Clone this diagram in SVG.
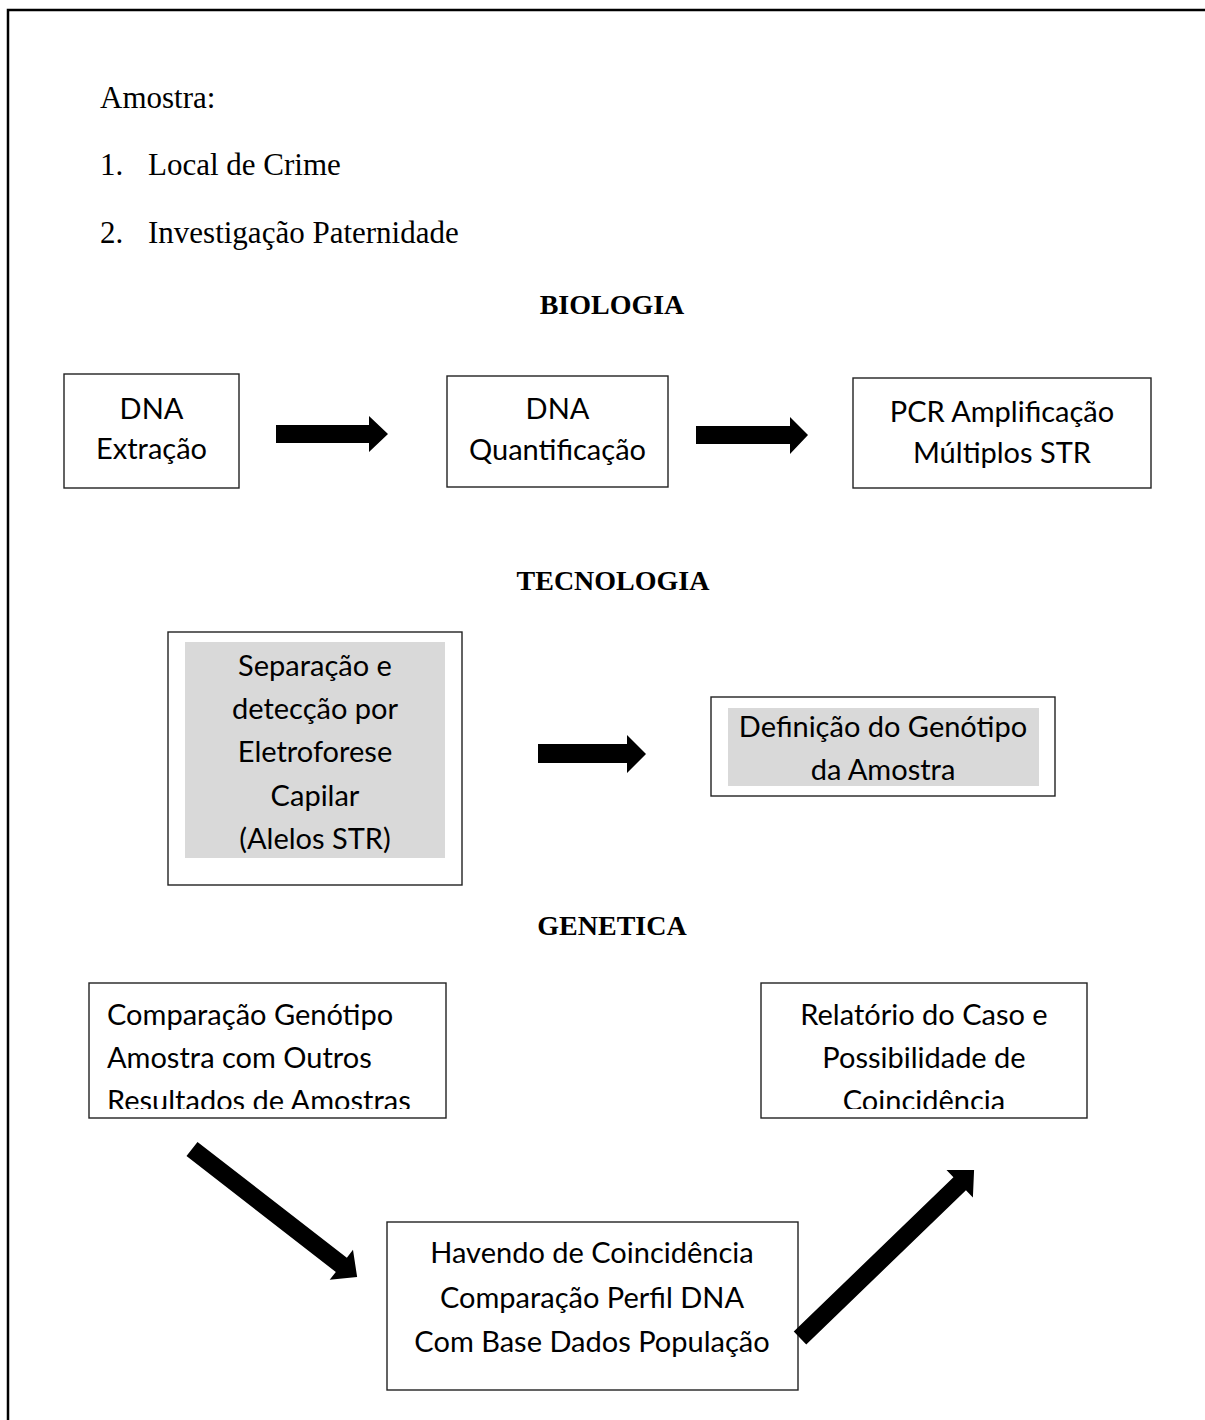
<svg xmlns="http://www.w3.org/2000/svg" width="1205" height="1420" viewBox="0 0 1205 1420">
<style>
.serif{font-family:"Liberation Serif","Times New Roman",serif;font-size:31px;fill:#000}
.head{font-family:"Liberation Serif","Times New Roman",serif;font-size:28px;font-weight:bold;fill:#000;text-anchor:middle}
.box{fill:#fff;stroke:#222;stroke-width:1.4}
.shade{fill:#d9d9d9}
.lbl{font-family:Lato,"Open Sans",sans-serif;font-size:29px;fill:#000;text-anchor:middle}
.lbll{font-family:Lato,"Open Sans",sans-serif;font-size:29px;fill:#000}
.arrow{fill:#000}
</style>
<defs>
<clipPath id="clipL"><rect x="89" y="983" width="357" height="126"/></clipPath>
<clipPath id="clipR"><rect x="761" y="983" width="326" height="126"/></clipPath>
</defs>
<rect width="1205" height="1420" fill="#fff"/>
<path d="M8 1420 V10 H1205" fill="none" stroke="#000" stroke-width="2.5"/>

<g id="intro">
<text class="serif" x="100" y="108">Amostra:</text>
<text class="serif" x="100" y="175">1.</text>
<text class="serif" x="148" y="175">Local de Crime</text>
<text class="serif" x="100" y="243">2.</text>
<text class="serif" x="148" y="243">Investigação Paternidade</text>
</g>

<g id="h-biologia"><text class="head" x="612" y="314">BIOLOGIA</text></g>
<g id="h-tecnologia"><text class="head" x="613" y="590">TECNOLOGIA</text></g>
<g id="h-genetica"><text class="head" x="612" y="935">GENETICA</text></g>

<g id="n-extracao">
<rect class="box" x="64" y="374" width="175" height="114"/>
<text class="lbl" x="151.5" y="419">DNA</text>
<text class="lbl" x="151.5" y="459">Extração</text>
</g>
<g id="n-quantificacao">
<rect class="box" x="447" y="376" width="221" height="111"/>
<text class="lbl" x="557.5" y="419">DNA</text>
<text class="lbl" x="557.5" y="460">Quantificação</text>
</g>
<g id="n-pcr">
<rect class="box" x="853" y="378" width="298" height="110"/>
<text class="lbl" x="1002" y="422">PCR Amplificação</text>
<text class="lbl" x="1002" y="463">Múltiplos STR</text>
</g>

<g id="n-separacao">
<rect class="box" x="168" y="632" width="294" height="253"/>
<rect class="shade" x="185" y="642" width="260" height="216"/>
<text class="lbl" x="315" y="676">Separação e</text>
<text class="lbl" x="315" y="719">detecção por</text>
<text class="lbl" x="315" y="762">Eletroforese</text>
<text class="lbl" x="315" y="806">Capilar</text>
<text class="lbl" x="315" y="849">(Alelos STR)</text>
</g>
<g id="n-genotipo">
<rect class="box" x="711" y="697" width="344" height="99"/>
<rect class="shade" x="728" y="708" width="311" height="78"/>
<text class="lbl" x="883" y="737">Definição do Genótipo</text>
<text class="lbl" x="883" y="780">da Amostra</text>
</g>

<g id="n-comparacao">
<rect class="box" x="89" y="983" width="357" height="135"/>
<g clip-path="url(#clipL)">
<text class="lbll" x="107" y="1025">Comparação Genótipo</text>
<text class="lbll" x="107" y="1068">Amostra com Outros</text>
<text class="lbll" x="107" y="1111">Resultados de Amostras</text>
</g>
</g>
<g id="n-relatorio">
<rect class="box" x="761" y="983" width="326" height="135"/>
<g clip-path="url(#clipR)">
<text class="lbl" x="924" y="1025">Relatório do Caso e</text>
<text class="lbl" x="924" y="1068">Possibilidade de</text>
<text class="lbl" x="924" y="1111">Coincidência</text>
</g>
</g>
<g id="n-havendo">
<rect class="box" x="387" y="1222" width="411" height="168"/>
<text class="lbl" x="592" y="1263">Havendo de Coincidência</text>
<text class="lbl" x="592" y="1308">Comparação Perfil DNA</text>
<text class="lbl" x="592" y="1352">Com Base Dados População</text>
</g>

<g id="connectors">
<polygon class="arrow" points="276,425 369,425 369,416 388,434 369,452 369,443 276,443"/>
<polygon class="arrow" points="696,426 790,426 790,417 808,435 790,454 790,444 696,444"/>
<polygon class="arrow" points="538,744 627,744 627,735 646,754 627,773 627,763 538,763"/>
<polygon class="arrow" transform="translate(192,1149) rotate(37.8)" points="0,-9 189,-9 189,-19 209,0 189,19 189,9 0,9"/>
<polygon class="arrow" transform="translate(800,1338) rotate(-44)" points="0,-9 222,-9 222,-19 242,0 222,19 222,9 0,9"/>
</g>
</svg>
